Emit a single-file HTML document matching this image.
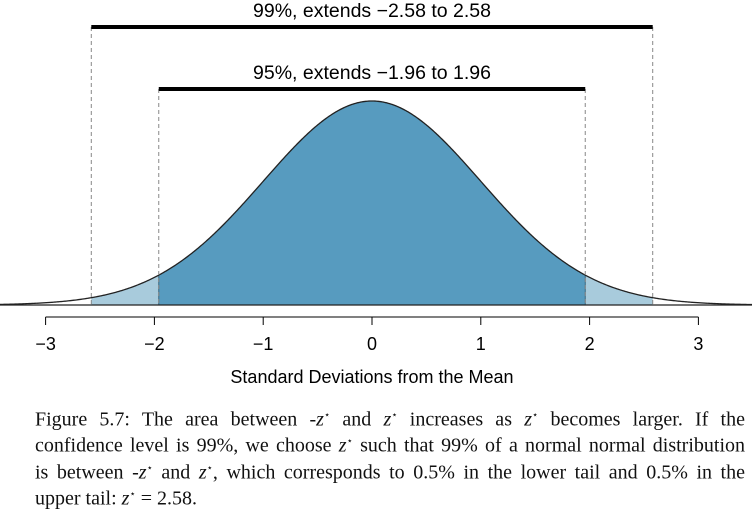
<!DOCTYPE html>
<html><head><meta charset="utf-8"><style>
body{margin:0;background:#fff;width:752px;height:500px;overflow:hidden;font-family:"Liberation Sans",sans-serif}
#cap{position:absolute;left:35px;top:405px;width:710px;font-family:"Liberation Serif",serif;font-size:20px;line-height:22.7px;color:#111}
#cap div{text-align:justify;text-align-last:justify;white-space:nowrap;display:block}
#cap div.last{text-align-last:left}
#cap i{font-style:italic}
#cap sup{font-size:10px}
</style></head><body>
<svg id="chart" width="752" height="400" style="position:absolute;left:0;top:0"></svg>
<div id="cap">
<div>Figure 5.7: The area between -<i>z</i><sup>⋆</sup> and <i>z</i><sup>⋆</sup> increases as <i>z</i><sup>⋆</sup> becomes larger. If the</div>
<div>confidence level is 99%, we choose <i>z</i><sup>⋆</sup> such that 99% of a normal normal distribution</div>
<div>is between -<i>z</i><sup>⋆</sup> and <i>z</i><sup>⋆</sup>, which corresponds to 0.5% in the lower tail and 0.5% in the</div>
<div class="last">upper tail: <i>z</i><sup>⋆</sup> = 2.58.</div>
</div>
<script>
const ticks=[-3,-2,-1,0,1,2,3];
const tickLabels=["\u22123","\u22122","\u22121","0","1","2","3"];
const intervals=[2.58,1.96];
const intervalLabels=["99%, extends \u22122.58 to 2.58","95%, extends \u22121.96 to 1.96"];
const barY=[27,89];
const NS="http://www.w3.org/2000/svg";
const svg=document.getElementById('chart');
const X=z=>372+z*108.8;
const base=305, peak=101;
const pdf=z=>Math.exp(-z*z/2);
const Y=z=>base-(base-peak)*pdf(z);
function mk(t,a){const e=document.createElementNS(NS,t);for(const k in a)e.setAttribute(k,a[k]);svg.appendChild(e);return e;}
function area(a,b,fill,name){let d=`M${X(a)},${base}`;for(let z=a;z<=b+1e-9;z+=0.01)d+=`L${X(z)},${Y(z)}`;d+=`L${X(b)},${Y(b)}L${X(b)},${base}Z`;
 const e=mk('path',{d,fill});}
area(-intervals[0],intervals[0],'#a8cbdc','tail-area-99');
area(-intervals[1],intervals[1],'#579bbf','center-area-95');
[-intervals[1],intervals[1]].forEach(z=>mk('line',{x1:X(z),x2:X(z),y1:base,y2:Y(z),stroke:'#3a6a80','stroke-width':1}));
let d='';for(let x=0;x<=752;x++){const z=(x-372)/108.8;d+=(x?'L':'M')+x+','+Y(z);}
const c=mk('path',{d,fill:'none',stroke:'#222','stroke-width':1.3});
mk('line',{x1:0,x2:752,y1:base,y2:base,stroke:'#222','stroke-width':1.3});
intervals.forEach((v,i)=>{
 [-v,v].forEach(z=>mk('line',{x1:X(z),x2:X(z),y1:barY[i],y2:base,stroke:'#888','stroke-width':1,'stroke-dasharray':'4,3'}));
 const b=mk('line',{x1:X(-v),x2:X(v),y1:barY[i],y2:barY[i],stroke:'#000','stroke-width':4});
 
 const t=mk('text',{x:372,y:barY[i]-10,'text-anchor':'middle','font-size':19.5,fill:'#000'});t.textContent=intervalLabels[i];
 
});
const ax=mk('line',{x1:X(ticks[0]),x2:X(ticks[ticks.length-1]),y1:317,y2:317,stroke:'#000','stroke-width':1});

ticks.forEach((v,i)=>{mk('line',{x1:X(v),x2:X(v),y1:317,y2:325,stroke:'#000'});
 const t=mk('text',{x:X(v),y:350,'text-anchor':'middle','font-size':18});t.textContent=tickLabels[i];
 });
const xt=mk('text',{x:372,y:383,'text-anchor':'middle','font-size':18});xt.textContent='Standard Deviations from the Mean';

</script>
</body></html>
